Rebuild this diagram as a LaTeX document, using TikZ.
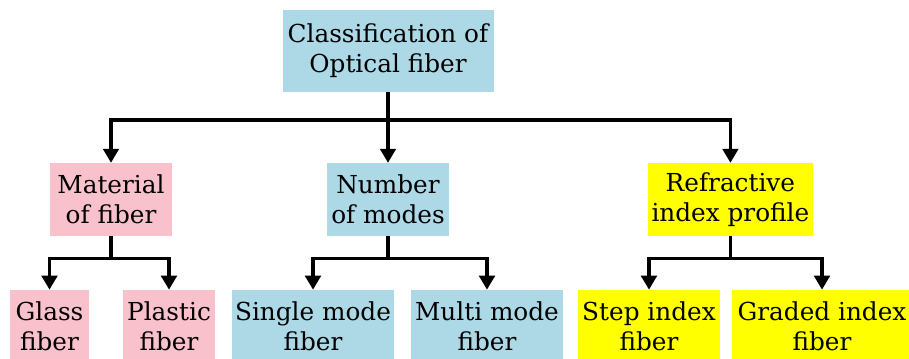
\documentclass[tikz,border=0pt]{standalone}
\usepackage{fontspec}
\setmainfont{DejaVu Serif}
\usetikzlibrary{arrows.meta}
\definecolor{pinkbox}{RGB}{248,193,204}
\definecolor{bluebox}{RGB}{173,216,230}
\definecolor{yellowbox}{RGB}{255,255,0}
\tikzset{
  box/.style={fill=#1, minimum height=1.825cm, inner sep=0pt, align=center,
    font=\fontsize{17.6}{21.3}\selectfont},
  arr/.style={line width=2.6pt, -{Triangle[width=11pt, length=10pt]}}
}

\begin{document}
\begin{tikzpicture}
\useasboundingbox (0, 0) rectangle (22.725, -8.95);
\node [box=bluebox, minimum width=5.275cm, minimum height=2.05cm] (top)
  at (9.7, -1.275) {Classification of\\Optical fiber};
\node [box=pinkbox, minimum width=3.05cm] (mat) at (2.775, -4.99) {Material\\of fiber};
\node [box=bluebox, minimum width=3.05cm] (num) at (9.7, -4.99) {Number\\of modes};
\node [box=yellowbox, minimum width=4.125cm] (ref) at (18.26, -4.99) {Refractive\\index profile};
\node [box=pinkbox, minimum width=1.975cm] (gla) at (1.2375, -8.1625) {Glass\\fiber};
\node [box=pinkbox, minimum width=2.3cm] (pla) at (4.225, -8.1625) {Plastic\\fiber};
\node [box=bluebox, minimum width=4.05cm] (sin) at (7.825, -8.1625) {Single mode\\fiber};
\node [box=bluebox, minimum width=3.8cm] (mul) at (12.175, -8.1625) {Multi mode\\fiber};
\node [box=yellowbox, minimum width=3.55cm] (ste) at (16.225, -8.1625) {Step index\\fiber};
\node [box=yellowbox, minimum width=4.5cm] (gra) at (20.55, -8.1625) {Graded index\\fiber};
\foreach \from/\to/\drop in {
	top/mat/0.7, top/num/0.7, top/ref/0.7,
	mat/gla/0.55, mat/pla/0.55,
	num/sin/0.55, num/mul/0.55,
	ref/ste/0.55, ref/gra/0.55
	} {
	\draw [arr] (\from.south) -- ++(0, -\drop) -| (\to.north);
}
\end{tikzpicture}
\end{document}
